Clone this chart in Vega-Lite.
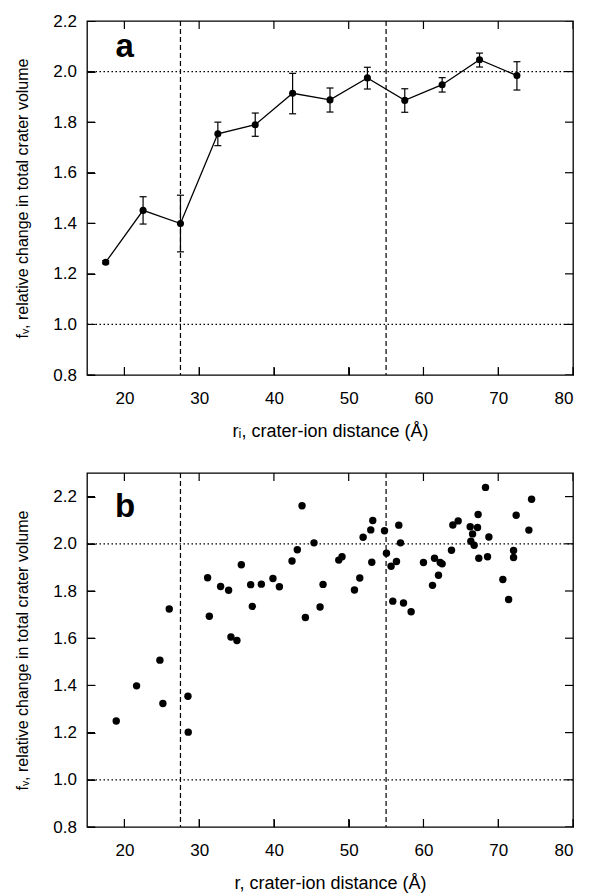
{
  "$schema": "https://vega.github.io/schema/vega-lite/v6.json",
  "padding": {"left": 14, "top": 11, "right": 10, "bottom": 5},
  "spacing": 30,
  "background": "white",
  "config": {
    "font": "Liberation Sans",
    "view": {"stroke": "black", "strokeWidth": 1.3},
    "axis": {
      "domain": false, "grid": false, "tickSize": 8, "offset": -8,
      "tickColor": "black",
      "labelColor": "black", "labelFontSize": 17, "labelFont": "Liberation Sans",
      "titleFont": "Liberation Sans", "titleFontWeight": "normal",
      "titleColor": "black"
    },
    "axisX": {"labelPadding": 15, "titlePadding": 16, "titleFontSize": 18},
    "axisY": {"labelPadding": 10.5, "titlePadding": 22, "titleFontSize": 16}
  },
  "datasets": {
    "a": [
      {"r": 17.5, "fv": 1.246, "lo": 1.240, "hi": 1.252},
      {"r": 22.5, "fv": 1.451, "lo": 1.397, "hi": 1.505},
      {"r": 27.5, "fv": 1.399, "lo": 1.287, "hi": 1.511},
      {"r": 32.5, "fv": 1.754, "lo": 1.707, "hi": 1.800},
      {"r": 37.5, "fv": 1.790, "lo": 1.744, "hi": 1.836},
      {"r": 42.5, "fv": 1.914, "lo": 1.833, "hi": 1.993},
      {"r": 47.5, "fv": 1.888, "lo": 1.840, "hi": 1.935},
      {"r": 52.5, "fv": 1.975, "lo": 1.931, "hi": 2.017},
      {"r": 57.5, "fv": 1.886, "lo": 1.839, "hi": 1.932},
      {"r": 62.5, "fv": 1.948, "lo": 1.919, "hi": 1.976},
      {"r": 67.5, "fv": 2.047, "lo": 2.018, "hi": 2.073},
      {"r": 72.5, "fv": 1.984, "lo": 1.927, "hi": 2.039}
    ],
    "b": [
      {"r": 18.91, "fv": 1.249}, {"r": 21.63, "fv": 1.398}, {"r": 24.75, "fv": 1.507},
      {"r": 25.15, "fv": 1.323}, {"r": 26.0, "fv": 1.724}, {"r": 28.5, "fv": 1.354},
      {"r": 28.54, "fv": 1.202}, {"r": 31.13, "fv": 1.856}, {"r": 31.36, "fv": 1.693},
      {"r": 32.87, "fv": 1.819}, {"r": 33.94, "fv": 1.803}, {"r": 34.25, "fv": 1.605},
      {"r": 35.05, "fv": 1.590}, {"r": 35.64, "fv": 1.911}, {"r": 36.89, "fv": 1.827},
      {"r": 37.11, "fv": 1.735}, {"r": 38.32, "fv": 1.829}, {"r": 39.87, "fv": 1.853},
      {"r": 40.73, "fv": 1.818}, {"r": 42.42, "fv": 1.927}, {"r": 43.13, "fv": 1.975},
      {"r": 43.76, "fv": 2.161}, {"r": 44.21, "fv": 1.688}, {"r": 45.36, "fv": 2.004},
      {"r": 46.17, "fv": 1.732}, {"r": 46.57, "fv": 1.828}, {"r": 48.67, "fv": 1.931},
      {"r": 49.11, "fv": 1.945}, {"r": 50.77, "fv": 1.804}, {"r": 51.48, "fv": 1.855},
      {"r": 51.93, "fv": 2.028}, {"r": 52.95, "fv": 2.059}, {"r": 53.22, "fv": 2.099},
      {"r": 53.09, "fv": 1.922}, {"r": 54.79, "fv": 2.055}, {"r": 55.05, "fv": 1.960},
      {"r": 55.67, "fv": 1.905}, {"r": 56.39, "fv": 1.925}, {"r": 56.70, "fv": 2.079},
      {"r": 56.93, "fv": 2.004}, {"r": 55.9, "fv": 1.757}, {"r": 57.33, "fv": 1.749},
      {"r": 58.35, "fv": 1.712}, {"r": 60.0, "fv": 1.921}, {"r": 61.21, "fv": 1.824},
      {"r": 61.48, "fv": 1.939}, {"r": 62.01, "fv": 1.867}, {"r": 62.24, "fv": 1.921},
      {"r": 62.50, "fv": 1.915}, {"r": 63.75, "fv": 1.973}, {"r": 63.93, "fv": 2.080},
      {"r": 64.64, "fv": 2.097}, {"r": 66.25, "fv": 2.072}, {"r": 66.57, "fv": 2.042},
      {"r": 66.34, "fv": 2.011}, {"r": 66.78, "fv": 1.994}, {"r": 67.23, "fv": 2.069},
      {"r": 67.31, "fv": 2.124}, {"r": 67.40, "fv": 1.939}, {"r": 68.30, "fv": 2.239},
      {"r": 68.57, "fv": 1.945}, {"r": 68.75, "fv": 2.029}, {"r": 70.62, "fv": 1.849},
      {"r": 71.39, "fv": 1.764}, {"r": 72.05, "fv": 1.972}, {"r": 72.05, "fv": 1.942},
      {"r": 72.40, "fv": 2.121}, {"r": 74.10, "fv": 2.058}, {"r": 74.46, "fv": 2.189}
    ],
    "hrefs": [{"ref": 1.0}, {"ref": 2.0}],
    "vrefs": [{"ref": 27.5}, {"ref": 55}],
    "yticks": [{"v": 0.8}, {"v": 1.0}, {"v": 1.2}, {"v": 1.4}, {"v": 1.6}, {"v": 1.8}, {"v": 2.0}, {"v": 2.2}],
    "xticks": [{"t": 20}, {"t": 30}, {"t": 40}, {"t": 50}, {"t": 60}, {"t": 70}, {"t": 80}]
  },
  "vconcat": [
    {
      "width": 486, "height": 354,
      "resolve": {"axis": {"x": "independent", "y": "independent"}},
      "layer": [
        {
          "data": {"name": "hrefs"},
          "mark": {"type": "rule", "strokeDash": [1.5, 2.5], "color": "black", "strokeWidth": 1.2},
          "encoding": {
            "y": {"field": "ref", "type": "quantitative", "scale": {"domain": [0.8, 2.2], "nice": false, "zero": false}, "axis": null}
          }
        },
        {
          "data": {"name": "vrefs"},
          "mark": {"type": "rule", "strokeDash": [5, 3], "color": "black", "strokeWidth": 1.2},
          "encoding": {
            "x": {"field": "ref", "type": "quantitative", "scale": {"domain": [15, 80], "nice": false, "zero": false}, "axis": null}
          }
        },
        {
          "data": {"name": "yticks"},
          "mark": {"type": "tick", "orient": "horizontal", "size": 16, "thickness": 1.2, "color": "black", "opacity": 1, "clip": true},
          "encoding": {
            "x": {"datum": 15, "type": "quantitative", "axis": null},
            "y": {"field": "v", "type": "quantitative", "axis": null}
          }
        },
        {
          "data": {"name": "yticks"},
          "mark": {"type": "tick", "orient": "horizontal", "size": 16, "thickness": 1.2, "color": "black", "opacity": 1, "clip": true},
          "encoding": {
            "x": {"datum": 80, "type": "quantitative", "axis": null},
            "y": {"field": "v", "type": "quantitative", "axis": null}
          }
        },
        {
          "data": {"name": "xticks"},
          "mark": {"type": "tick", "orient": "vertical", "size": 16, "thickness": 1.2, "color": "black", "opacity": 1, "clip": true},
          "encoding": {
            "x": {"field": "t", "type": "quantitative", "axis": null},
            "y": {"datum": 0.8, "type": "quantitative", "axis": null}
          }
        },
        {
          "data": {"name": "xticks"},
          "mark": {"type": "tick", "orient": "vertical", "size": 16, "thickness": 1.2, "color": "black", "opacity": 1, "clip": true},
          "encoding": {
            "x": {"field": "t", "type": "quantitative", "axis": null},
            "y": {"datum": 2.2, "type": "quantitative", "axis": null}
          }
        },
        {
          "data": {"name": "a"},
          "mark": {"type": "rule", "color": "black", "strokeWidth": 1.2},
          "encoding": {
            "x": {"field": "r", "type": "quantitative", "axis": null},
            "y": {"field": "lo", "type": "quantitative", "axis": null},
            "y2": {"field": "hi"}
          }
        },
        {
          "data": {"name": "a"},
          "mark": {"type": "tick", "orient": "horizontal", "size": 7, "thickness": 1.2, "color": "black", "opacity": 1},
          "encoding": {
            "x": {"field": "r", "type": "quantitative", "axis": null},
            "y": {"field": "lo", "type": "quantitative", "axis": null}
          }
        },
        {
          "data": {"name": "a"},
          "mark": {"type": "tick", "orient": "horizontal", "size": 7, "thickness": 1.2, "color": "black", "opacity": 1},
          "encoding": {
            "x": {"field": "r", "type": "quantitative", "axis": null},
            "y": {"field": "hi", "type": "quantitative", "axis": null}
          }
        },
        {
          "data": {"name": "a"},
          "mark": {"type": "line", "color": "black", "strokeWidth": 1.3},
          "encoding": {
            "x": {"field": "r", "type": "quantitative", "axis": null},
            "y": {"field": "fv", "type": "quantitative", "axis": null}
          }
        },
        {
          "data": {"name": "a"},
          "mark": {"type": "point", "shape": "circle", "filled": true, "size": 50, "color": "black", "opacity": 1},
          "encoding": {
            "x": {"field": "r", "type": "quantitative",
                  "axis": {"orient": "bottom", "title": "rᵢ, crater-ion distance (Å)", "values": [20, 30, 40, 50, 60, 70, 80]}},
            "y": {"field": "fv", "type": "quantitative",
                  "axis": {"orient": "left", "title": "fᵥ, relative change in total crater volume", "format": ".1f", "values": [0.8, 1.0, 1.2, 1.4, 1.6, 1.8, 2.0, 2.2]}}
          }
        },
        {
          "data": {"values": [{"label": "a"}]},
          "mark": {"type": "text", "fontSize": 33, "fontWeight": "bold", "align": "center", "baseline": "alphabetic", "color": "black"},
          "encoding": {
            "x": {"datum": 20.05, "type": "quantitative", "axis": null},
            "y": {"datum": 2.058, "type": "quantitative", "axis": null},
            "text": {"field": "label"}
          }
        }
      ]
    },
    {
      "width": 486, "height": 354,
      "resolve": {"axis": {"x": "independent", "y": "independent"}},
      "layer": [
        {
          "data": {"name": "hrefs"},
          "mark": {"type": "rule", "strokeDash": [1.5, 2.5], "color": "black", "strokeWidth": 1.2},
          "encoding": {
            "y": {"field": "ref", "type": "quantitative", "scale": {"domain": [0.8, 2.3], "nice": false, "zero": false}, "axis": null}
          }
        },
        {
          "data": {"name": "vrefs"},
          "mark": {"type": "rule", "strokeDash": [5, 3], "color": "black", "strokeWidth": 1.2},
          "encoding": {
            "x": {"field": "ref", "type": "quantitative", "scale": {"domain": [15, 80], "nice": false, "zero": false}, "axis": null}
          }
        },
        {
          "data": {"name": "yticks"},
          "mark": {"type": "tick", "orient": "horizontal", "size": 16, "thickness": 1.2, "color": "black", "opacity": 1, "clip": true},
          "encoding": {
            "x": {"datum": 15, "type": "quantitative", "axis": null},
            "y": {"field": "v", "type": "quantitative", "axis": null}
          }
        },
        {
          "data": {"name": "yticks"},
          "mark": {"type": "tick", "orient": "horizontal", "size": 16, "thickness": 1.2, "color": "black", "opacity": 1, "clip": true},
          "encoding": {
            "x": {"datum": 80, "type": "quantitative", "axis": null},
            "y": {"field": "v", "type": "quantitative", "axis": null}
          }
        },
        {
          "data": {"name": "xticks"},
          "mark": {"type": "tick", "orient": "vertical", "size": 16, "thickness": 1.2, "color": "black", "opacity": 1, "clip": true},
          "encoding": {
            "x": {"field": "t", "type": "quantitative", "axis": null},
            "y": {"datum": 0.8, "type": "quantitative", "axis": null}
          }
        },
        {
          "data": {"name": "xticks"},
          "mark": {"type": "tick", "orient": "vertical", "size": 16, "thickness": 1.2, "color": "black", "opacity": 1, "clip": true},
          "encoding": {
            "x": {"field": "t", "type": "quantitative", "axis": null},
            "y": {"datum": 2.3, "type": "quantitative", "axis": null}
          }
        },
        {
          "data": {"name": "b"},
          "mark": {"type": "point", "shape": "circle", "filled": true, "size": 55, "color": "black", "opacity": 1},
          "encoding": {
            "x": {"field": "r", "type": "quantitative",
                  "axis": {"orient": "bottom", "title": "r, crater-ion distance (Å)", "values": [20, 30, 40, 50, 60, 70, 80]}},
            "y": {"field": "fv", "type": "quantitative",
                  "axis": {"orient": "left", "title": "fᵥ, relative change in total crater volume", "format": ".1f", "values": [0.8, 1.0, 1.2, 1.4, 1.6, 1.8, 2.0, 2.2]}}
          }
        },
        {
          "data": {"values": [{"label": "b"}]},
          "mark": {"type": "text", "fontSize": 33, "fontWeight": "bold", "align": "center", "baseline": "alphabetic", "color": "black"},
          "encoding": {
            "x": {"datum": 20.1, "type": "quantitative", "axis": null},
            "y": {"datum": 2.115, "type": "quantitative", "axis": null},
            "text": {"field": "label"}
          }
        }
      ]
    }
  ]
}
